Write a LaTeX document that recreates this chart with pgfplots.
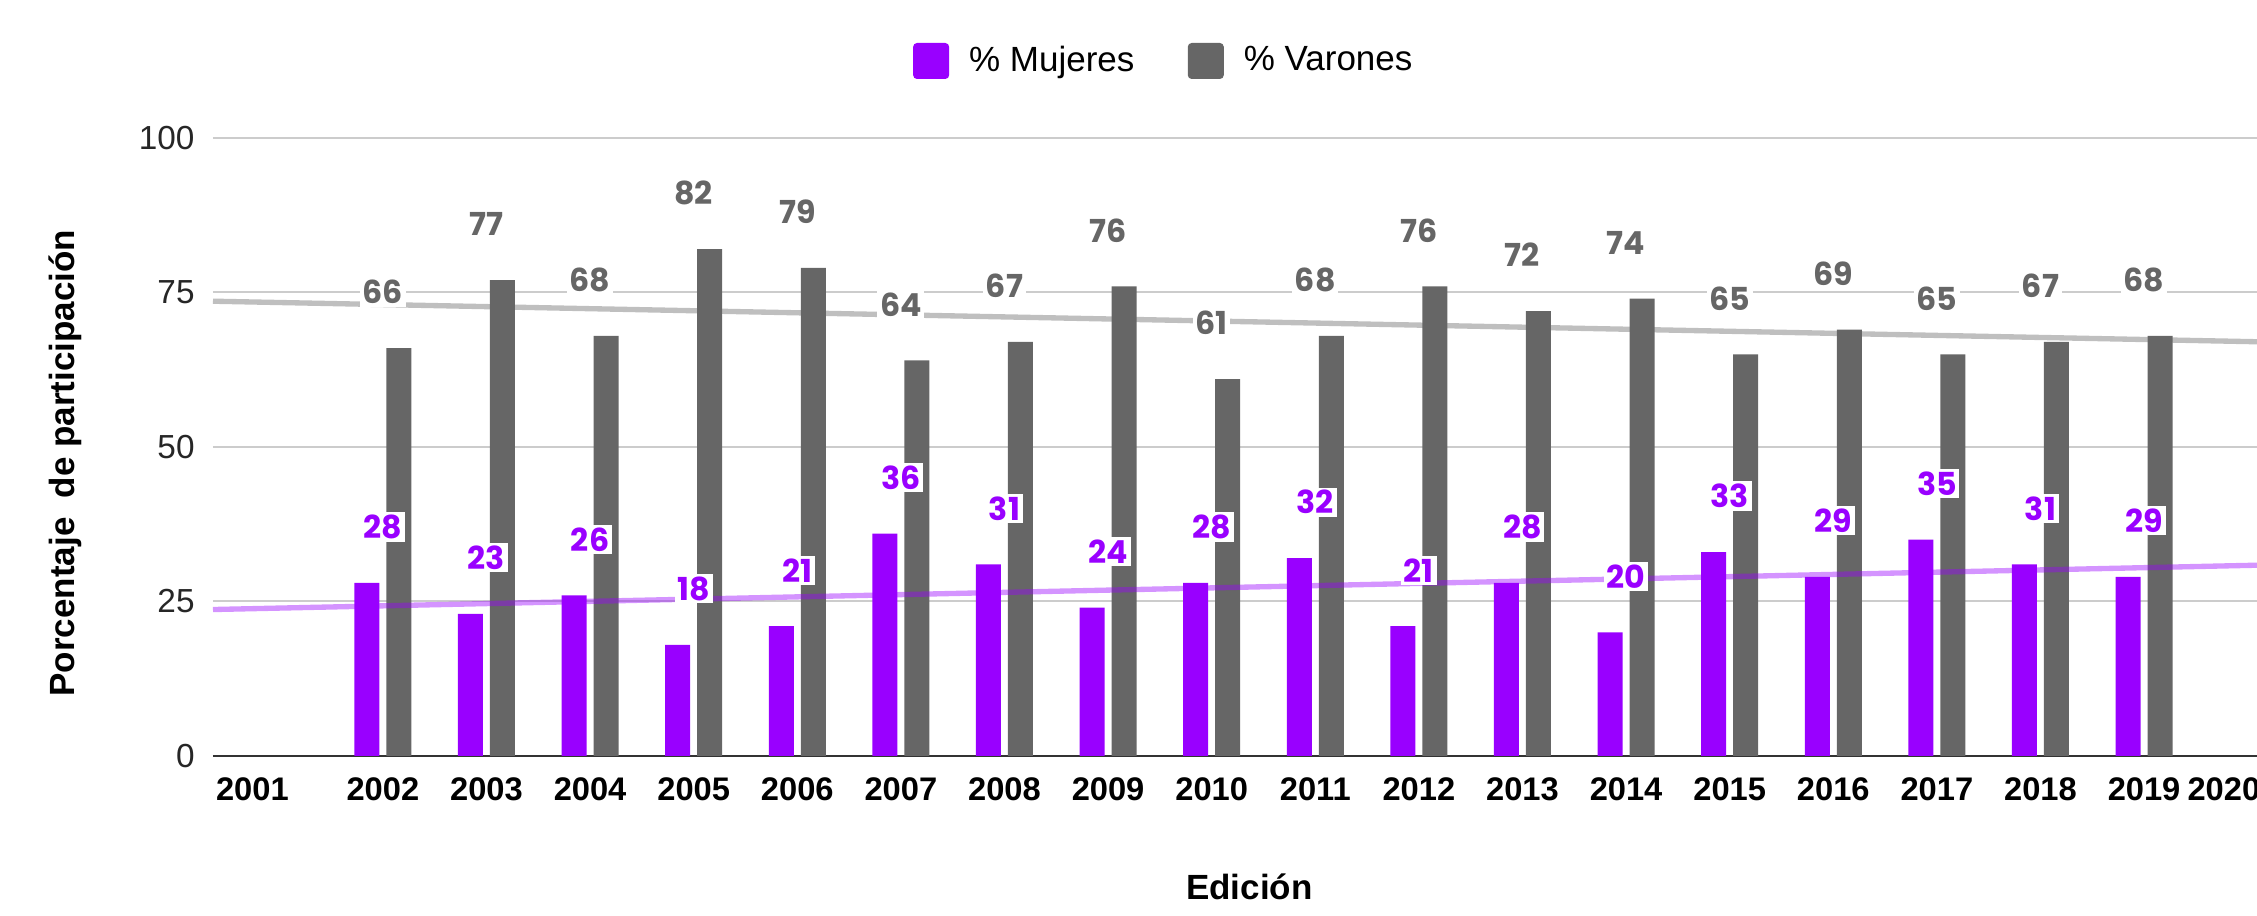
\documentclass[border=0pt]{standalone}
\usepackage{pgfplots}
\pgfplotsset{compat=1.18}
\usepackage{fontspec}
\setmainfont{Liberation Sans}
\newfontfamily\lblfont{Poppins}
\definecolor{purp}{HTML}{9900FF}
\definecolor{gris}{HTML}{666666}
\definecolor{gridc}{HTML}{CCCCCC}
\definecolor{axisc}{HTML}{333333}
\begin{document}
\begin{tikzpicture}
\begin{axis}[
  scale only axis, width=613.2pt, height=185.4pt,
  xmin=2000.36, xmax=2020.09, ymin=0, ymax=100,
  axis x line*=bottom, axis y line*=left,
  x axis line style={-, color=axisc, line width=0.6pt},
  y axis line style={draw=none},
  /pgf/number format/assume math mode=true,
  ytick={0,25,50,75,100},
  ymajorgrids, grid style={gridc, line width=0.6pt},
  major tick length=0pt,
  xtick={2000.74,2002,2003,2004,2005,2006,2007,2008,2009,2010,2011,2012,2013,2014,2015,2016,2017,2018,2019,2019.77},
  xticklabels={2001,2002,2003,2004,2005,2006,2007,2008,2009,2010,2011,2012,2013,2014,2015,2016,2017,2018,2019,2020},
  xticklabel style={font=\bfseries\fontsize{9.8}{12}\selectfont, text=black, yshift=-3pt},
  yticklabel style={font=\fontsize{10}{12}\selectfont, text=black!85, xshift=-2pt},
  xlabel={Edición}, ylabel={Porcentaje\ \ de participación},
  xlabel style={font=\bfseries\fontsize{10.5}{12}\selectfont, at={(axis description cs:0.507,-0.212)}, anchor=center},
  ylabel style={font=\bfseries\fontsize{10.5}{12}\selectfont, at={(axis description cs:-0.0724,0.474)}, anchor=center},
  legend style={at={(axis description cs:0.4663,1.1246)}, anchor=center, draw=none, fill=none,
    font=\fontsize{10.5}{12}\selectfont,
    /tikz/every even column/.append style={column sep=14pt},
    /tikz/every odd column/.append style={column sep=4pt}},
  legend columns=2,
]
% bars
\addplot[ybar, bar width=7.5pt, bar shift=-4.8pt, fill=purp, draw=none, forget plot] coordinates {
(2002,28) (2003,23) (2004,26) (2005,18) (2006,21) (2007,36) (2008,31) (2009,24) (2010,28)
(2011,32) (2012,21) (2013,28) (2014,20) (2015,33) (2016,29) (2017,35) (2018,31) (2019,29)};
\addplot[ybar, bar width=7.5pt, bar shift=4.8pt, fill=gris, draw=none, forget plot] coordinates {
(2002,66) (2003,77) (2004,68) (2005,82) (2006,79) (2007,64) (2008,67) (2009,76) (2010,61)
(2011,68) (2012,76) (2013,72) (2014,74) (2015,65) (2016,69) (2017,65) (2018,67) (2019,68)};
% trend lines
\addplot[gris, opacity=0.42, line width=1.6pt, forget plot] coordinates {(2000.36,73.59) (2020.09,67.03)};
\addplot[purp, opacity=0.42, line width=1.6pt, forget plot] coordinates {(2000.36,23.70) (2020.09,30.87)};
% labels
\addplot[ybar, bar width=7.5pt, bar shift=4.8pt, fill=none, draw=none, forget plot,
  nodes near coords,
  every node near coord/.append style={font=\lblfont\bfseries\fontsize{9.5}{11}\selectfont, text=gris, anchor=center, yshift=16.8pt, fill=white, inner sep=0.8pt}] coordinates {
(2002,66) (2003,77) (2004,68) (2005,82) (2006,79) (2007,64) (2008,67) (2009,76) (2010,61)
(2011,68) (2012,76) (2013,72) (2014,74) (2015,65) (2016,69) (2017,65) (2018,67) (2019,68)};
\addplot[ybar, bar width=7.5pt, bar shift=-4.8pt, fill=none, draw=none, forget plot,
  nodes near coords,
  every node near coord/.append style={font=\lblfont\bfseries\fontsize{9.5}{11}\selectfont, text=purp, anchor=center, yshift=16.8pt, fill=white, inner sep=0.8pt}] coordinates {
(2002,28) (2003,23) (2004,26) (2005,18) (2006,21) (2007,36) (2008,31) (2009,24) (2010,28)
(2011,32) (2012,21) (2013,28) (2014,20) (2015,33) (2016,29) (2017,35) (2018,31) (2019,29)};
\addlegendimage{legend image code/.code={\fill[purp, rounded corners=1pt] (0pt,-5.2pt) rectangle (10.4pt,5.2pt);}}
\addlegendentry{\% Mujeres}
\addlegendimage{legend image code/.code={\fill[gris, rounded corners=1pt] (0pt,-5.2pt) rectangle (10.4pt,5.2pt);}}
\addlegendentry{\% Varones}
\coordinate (bbsw) at (axis description cs:-0.1042,-0.2589);
\coordinate (bbne) at (axis description cs:1,1.2233);
\end{axis}
\pgfresetboundingbox
\useasboundingbox (bbsw) rectangle (bbne);
\end{tikzpicture}
\end{document}
